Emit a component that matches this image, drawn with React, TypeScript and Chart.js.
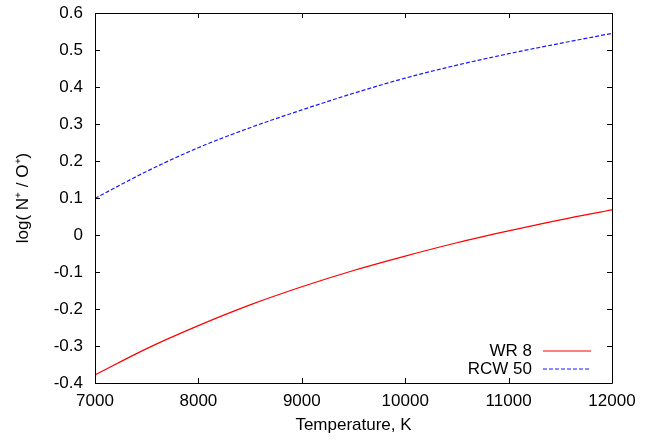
import React, { useEffect, useRef } from "react";
import { Chart, registerables } from "chart.js";

Chart.register(...registerables);

const temperatures = [7000, 7500, 8000, 8500, 9000, 9500, 10000, 10500, 11000, 11500, 12000];
const wr8 = [-0.378, -0.307, -0.245, -0.189, -0.14, -0.096, -0.057, -0.021, 0.011, 0.041, 0.068];
const rcw50 = [0.099, 0.172, 0.236, 0.29, 0.338, 0.383, 0.424, 0.459, 0.49, 0.518, 0.545];
const seriesLabels = ["WR 8", "RCW 50"];
const seriesColors = ["#ff0000", "#1a1aff"];
const xTicks = [7000, 8000, 9000, 10000, 11000, 12000];
const yTicks = [-0.4, -0.3, -0.2, -0.1, 0, 0.1, 0.2, 0.3, 0.4, 0.5, 0.6];
const xTitle = "Temperature, K";
const yTitle = "log( N\u207A / O\u207A)";

const FONT = "'Liberation Sans', Arial, Helvetica, sans-serif";
const FS = 17;

const framePlugin = {
  id: "gnuFrame",
  afterDraw(chart: any) {
    const { ctx, chartArea: a } = chart;
    const xs = chart.scales.x;
    const ys = chart.scales.y;
    const L = 5;
    ctx.save();
    ctx.strokeStyle = "#000";
    ctx.lineWidth = 1;
    ctx.beginPath();
    ctx.rect(Math.round(a.left) + 0.5, Math.round(a.top) + 0.5, Math.round(a.right - a.left), Math.round(a.bottom - a.top));
    ctx.stroke();
    ctx.beginPath();
    xs.ticks.forEach((t: any) => {
      const px = Math.round(xs.getPixelForValue(t.value)) + 0.5;
      ctx.moveTo(px, a.bottom);
      ctx.lineTo(px, a.bottom - L);
      ctx.moveTo(px, a.top);
      ctx.lineTo(px, a.top + L);
    });
    ys.ticks.forEach((t: any) => {
      const py = Math.round(ys.getPixelForValue(t.value)) + 0.5;
      ctx.moveTo(a.left, py);
      ctx.lineTo(a.left + L, py);
      ctx.moveTo(a.right, py);
      ctx.lineTo(a.right - L, py);
    });
    ctx.stroke();

    // gnuplot-style key, bottom right inside the plot
    ctx.font = `${FS}px ${FONT}`;
    ctx.textAlign = "right";
    ctx.textBaseline = "middle";
    chart.data.datasets.forEach((ds: any, i: number) => {
      const y = a.bottom - 32 + i * 18.3;
      ctx.fillStyle = "#000";
      ctx.fillText(ds.label, a.right - 80, y);
      ctx.strokeStyle = seriesColors[i];
      ctx.lineWidth = 1.2;
      ctx.setLineDash(ds.borderDash || []);
      ctx.beginPath();
      ctx.moveTo(a.right - 69, Math.round(y));
      ctx.lineTo(a.right - 21, Math.round(y));
      ctx.stroke();
      ctx.setLineDash([]);
    });
    ctx.restore();
  },
};

export default function App() {
  const ref = useRef<HTMLCanvasElement | null>(null);
  useEffect(() => {
    if (!ref.current) return;
    const chart = new Chart(ref.current, {
      type: "line",
      data: {
        datasets: [
          {
            label: seriesLabels[0],
            data: temperatures.map((t, i) => ({ x: t, y: wr8[i] })),
            borderColor: seriesColors[0],
            borderWidth: 1.2,
            pointRadius: 0,
            cubicInterpolationMode: "monotone",
          },
          {
            label: seriesLabels[1],
            data: temperatures.map((t, i) => ({ x: t, y: rcw50[i] })),
            borderColor: seriesColors[1],
            borderWidth: 1.2,
            borderDash: [4, 2],
            pointRadius: 0,
            cubicInterpolationMode: "monotone",
          },
        ],
      },
      options: {
        animation: false,
        responsive: false,
        layout: { padding: { top: 13, right: 43, left: 0, bottom: 0 } },
        plugins: { legend: { display: false }, tooltip: { enabled: false } },
        scales: {
          x: {
            type: "linear",
            min: xTicks[0],
            max: xTicks[xTicks.length - 1],
            afterBuildTicks: (s: any) => {
              s.ticks = xTicks.map((v) => ({ value: v }));
            },
            afterFit: (s: any) => {
              s.height = 58;
            },
            grid: { display: false, drawTicks: false },
            border: { display: false },
            ticks: {
              padding: 8,
              color: "#000",
              font: { family: FONT, size: FS },
              maxRotation: 0,
              callback: (v: any) => String(v),
            },
            title: {
              display: true,
              text: xTitle,
              color: "#000",
              font: { family: FONT, size: FS },
              padding: { top: 0, bottom: 5 },
            },
          },
          y: {
            type: "linear",
            min: yTicks[0],
            max: yTicks[yTicks.length - 1],
            afterBuildTicks: (s: any) => {
              s.ticks = yTicks.map((v) => ({ value: v }));
            },
            afterFit: (s: any) => {
              s.width = 95;
            },
            grid: { display: false, drawTicks: false },
            border: { display: false },
            ticks: {
              padding: 12,
              color: "#000",
              font: { family: FONT, size: FS, lineHeight: 0.05 },
              callback: (v: any) => String(Number(Number(v).toFixed(1))),
            },
            title: {
              display: true,
              text: yTitle,
              color: "#000",
              font: { family: FONT, size: FS },
              padding: { top: 13, bottom: 0 },
            },
          },
        },
      },
      plugins: [framePlugin],
    });
    return () => chart.destroy();
  }, []);
  return (
    <div style={{ position: "absolute", left: 0, top: 0, width: 655, height: 441, background: "#fff" }}>
      <canvas ref={ref} width={655} height={441} style={{ display: "block" }} />
    </div>
  );
}
